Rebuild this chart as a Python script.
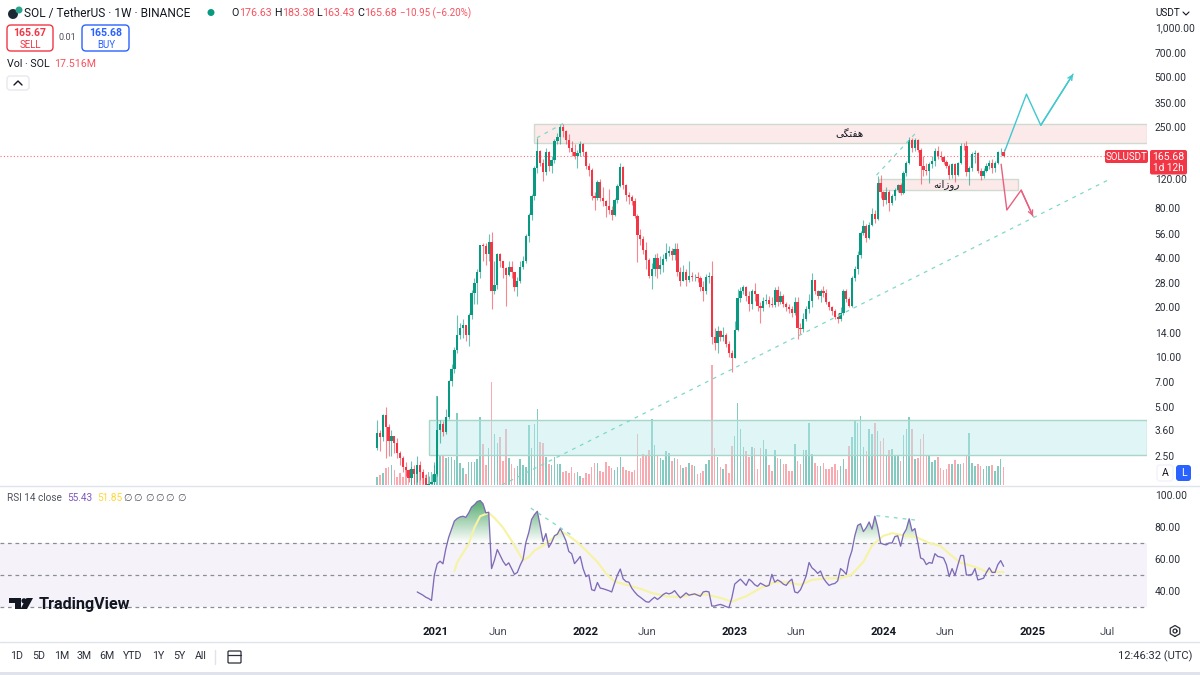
import numpy as np, pandas as pd, matplotlib
matplotlib.use("Agg")
import matplotlib.pyplot as plt, seaborn as sns, matplotlib.dates as mdates
from matplotlib.patches import Rectangle, FancyBboxPatch, Polygon
from matplotlib.lines import Line2D
from matplotlib.path import Path
from matplotlib.ticker import NullLocator
from matplotlib.transforms import IdentityTransform

first_open = 2.82
closes = [3.45,3.25,4.45,3.75,3.1,3.3,3.0,2.6,2.45,2.15,
 2.05,1.85,2.1,1.95,2.2,2.0,1.85,1.65,1.7,1.75,1.95,
 3.6,3.9,3.5,4.3,7.1,8.4,11,13.6,15,15.6,
 13.5,18,24.5,28,33,47.5,47,42,50,25,
 27.5,42,38.5,34.5,31.5,35,33,26.5,29,35,
 38.5,54,73,95,140,178,150,133,175,145,
 157,205,215,250,235,207,185,175,167,172,
 195,175,145,136,95,92,115,92,88,83,
 78,73,90,109,142,110,96,93,88,72,
 55,52,44.5,39,31,34,40,34,36,39.5,
 42.5,44,41.5,45,33,29,33,29.5,31,30.5,
 30.5,30,26.5,25,30.5,31,13.3,12.2,14.3,13.3,
 13.5,12,10.6,9.9,14.6,22.8,25,26.5,23.5,21,
 25,24,20.5,19.8,22,22.2,21,20.7,25.5,21.5,
 23.5,21,20,19.5,18.5,21.5,15,14.8,17,19.5,
 22,29.5,25,23.5,25,24.5,21.5,20,19,17.5,
 17,18.5,25,22.5,20.5,30,34,41.6,56.5,62,
 53,63,74,69,113,100,89.5,100,
 86,95,103,110,99,130,150,208,185,207,180,
 145,136,135,148,155,178,165,163,153,145,
 127,148,127,150,192,190,132,140,170,172,
 135,125,135,145,150,140,150,175,176.63,165.68]
highs = [4.15,3.6,4.5,5.0,3.9,3.6,3.3,3.2,2.7,2.5,
 2.3,2.1,2.35,2.2,2.5,2.35,2.1,1.95,1.9,1.95,2.3,
 5.8,4.15,4.1,4.8,7.2,9,11.5,18,16,17,
 15.5,18.5,25.5,30,34,48,49,49,56,57,
 38,43,43,38,35,38,38,33,30.5,38,
 41,56,75,97,145,214,180,160,185,178,
 165,210,230,258,260,240,225,205,195,180,
 205,200,178,150,140,100,118,120,108,90,
 105,82,92,112,150,145,112,100,96,92,
 74,60,54,50,40,37,42,43,41,42,
 49,47,46,49,49,35,36,34,38,33,
 32,33,31,29,32,33,38,15,15.5,14.5,
 15.2,14,12.5,11,16.5,26,26.5,27.5,27,25,
 26,28,24,21.5,23,24,23.5,23,26.5,27,
 25,24,21.5,21,20.5,23,23,16,18.5,20.5,
 24,32.5,29.5,25.5,26,27,26,22,20.5,19.5,
 18.5,20,26,26,23,31,35.5,44,58,68,
 64,66,80,78,125,127,102,108,
 103,97,106,112,113,135,155,215,212,212,210,
 185,165,150,152,165,185,190,178,165,158,
 148,150,150,152,198,200,205,145,175,180,
 175,140,140,150,158,160,155,178,185,183.38]
lows = [2.73,2.7,3.1,2.45,2.5,2.5,2.6,2.45,2.2,2.0,
 1.9,1.75,1.67,1.7,1.75,1.8,1.7,1.5,1.55,1.6,1.6,
 1.9,3.0,3.3,3.4,4.2,6.7,8,10.5,12.8,13,
 12.5,11.7,17,21,21,30,38,36,38,19.5,
 24,26,35,30,20.5,31,30,25,23.5,28,
 34,37,50,68,90,130,145,117,128,135,
 130,150,195,195,215,195,175,165,160,140,
 165,165,138,125,90,78,90,88,82,71,
 74,68,72,86,108,105,88,85,84,70,
 37.5,48,42,34,30,26,31,30,32,33,
 38,41,39,39,31,27,29,27,28.5,29,
 29,28.5,25,22,24,28,12,11,10.6,12.5,
 12.5,11.5,10,8.1,9.8,14.3,21.5,24,22,19,
 19.5,22,19,16,19,21,20,20,20,20.5,
 21,20,19,18.5,17.5,18,12.8,13.8,14.2,16.5,
 18.5,20,24,22.5,21.5,23,21,19.2,18,17,
 16,16.5,18,21.5,20,20,29,32,40,55,
 50,52,62,65,68,92,82,85,
 77,84,90,100,96,97,125,148,175,178,175,
 112,125,128,113,140,145,160,158,148,140,
 120,122,115,125,148,180,125,110,135,150,
 130,118,122,132,138,130,132,148,168,163.43]
volumes_m = [8,10,12,17,18,20,15,8,12,8,15,9,18,12,20,15,12,10,13,13,20,89,30,
 29,27,28,28,25,72,22,17,11,23,23,23,26,68,41,20,37,103,51,42,48,
 24,56,27,21,17,19,26,20,18,60,37,61,76,43,42,28,21,20,28,21,
 21,13,14,12,18,12,13,9,7,12,11,18,22,22,14,13,23,19,17,15,
 18,28,18,15,14,13,15,51,27,31,30,35,66,40,29,27,25,34,32,24,
 27,26,20,17,18,22,
 20,19,11,12,14,21,25,120,37,28,18,16,21,12,39,49,82,56,38,34,
 28,38,37,16,37,45,36,20,14,35,27,26,21,21,14,14,41,24,21,
 35,35,62,31,22,19,19,22,16,16,18,21,15,19,26,16,39,48,65,62,
 69,38,34,56,51,62,54,44,47,29,35,36,29,29,24,50,56,68,56,26,
 27,46,51,29,30,23,25,28,17,15,16,21,21,25,21,21,22,30,52,22,
 19,21,19,16,19,19,20,14,19,26,17.516]
rsi_start_bar = 14
rsi_values = [39.4,38.4,37.4,36.1,35.3,34.1,50,57,58.6,57,66.3,73.5,78.6,83.7,85.3,86.3,86.7,86,88.8,92.4,
 93.9,95.9,96.5,94.5,88.8,89.2,54,59.2,65.9,62.2,58.6,56,57.6,54,50.4,51.6,56.1,59.8,70.4,76.5,
 84.7,87.7,89.8,80.6,70.8,75.9,67.3,70.4,74.5,75.5,79,75.5,71.4,64.7,63.3,57.1,59.2,61.6,54,49,
 50,40.8,40.2,45.3,41.8,41.4,40.8,40.2,39.4,44.9,50,53.7,47.6,45.9,45.5,41.8,39.4,37.4,36.1,34.7,
 33.3,33,34.7,36.1,34.7,36.1,37.8,38.8,38.2,38.8,40.2,37.8,35.7,37.2,38.8,37.4,37.8,38.2,37.4,36.7,
 39.4,39.8,39.4,30.6,30.6,31.2,31.6,31,30.2,29.6,35.7,44.3,45.9,47.4,45.5,43.5,47.4,45.9,43.9,42.9,
 44.9,43.9,42.9,43.5,50.4,45.5,46.9,45.9,44.3,43.5,45.9,47.4,39.4,38.8,40.8,44.9,49.6,57.8,54.5,53,
 51,52.5,48,45.5,43.5,44.3,44.7,46.3,54,52.5,50.4,59.8,65.3,74.5,81,82,77.1,79.6,83.1,78.6,
 86.7,79.6,70,69.2,68.8,70,70,74,74.5,68,75.5,78.6,85.1,77.5,79,70.4,60.6,59.8,56.5,57.8,
 57.3,63.3,61.6,61.2,60.6,56.5,49,54,49.6,56.1,62.2,62.2,50,50,50.4,54,46.9,47.4,48,51.6,
 54.5,51.6,51.6,56.5,59,55.43]
ma_bars = [27,28,32,34,36,39,41,44,47,49,51,53,55,58,61,64,67,70,73,77,80,83,87,92,96,101,106,110,115,
 120,124,129,134,139,143,148,152,157,162,166,170,173,177,180,185,188,193,197,200,204,209,213,219]
ma_values = [52.4,58,69.4,79.6,86.7,88.8,85.7,79.6,71.4,65.3,59.2,61.2,65.3,68.4,72.4,77.5,74.5,70.4,65.3,58.2,51,45.9,43.9,41.4,38.8,36.7,36.1,37.8,37.8,
 35.7,33.3,36.7,41.8,45.5,45.5,43.9,46.9,47.9,47.9,50.4,58.2,68.4,74.5,76.1,74.5,74,70,68,63.3,57.6,55.1,52,51.85]
price_ticks = [1000,700,500,350,250,120,80,56,40,28,20,14,10,7,5,3.6,2.5]
rsi_ticks = [100,80,60,40]
time_ticks = ["2021-01-01","2021-06-01","2022-01-01","2022-06-01","2023-01-01","2023-06-01","2024-01-01","2024-06-01","2025-01-01","2025-07-01"]
time_labels = ["2021","Jun","2022","Jun","2023","Jun","2024","Jun","2025","Jul"]
range_labels = ["1D","5D","1M","3M","6M","YTD","1Y","5Y","All"]
assert len(closes)==len(highs)==len(lows)==len(volumes_m)==220, (len(closes),len(highs),len(lows),len(volumes_m))
assert len(rsi_values)==206, len(rsi_values)

sns.set_theme(style="white")
plt.rcParams['font.family'] = ['Roboto','DejaVu Sans']
UP,DOWN,INK,GREY='#089981','#f23645','#131722','#50535e'
W,H=1200,675
fig=plt.figure(figsize=(12,6.75),dpi=100,facecolor='white')
ax=fig.add_axes([0,1-485/H,1147/W,485/H])
axv=ax.twinx()
ar=fig.add_axes([0,1-621/H,1147/W,135/H])
ax.set_zorder(3); axv.set_zorder(2); ar.set_zorder(1); ax.patch.set_visible(False)

df=pd.DataFrame({'date':pd.date_range('2020-08-10',periods=len(closes),freq='7D'),
                 'close':closes,'high':highs,'low':lows,'volume':volumes_m})
df['open']=[first_open]+closes[:-1]
df['top']=df[['open','close']].max(axis=1); df['bot']=df[['open','close']].min(axis=1)
df['color']=np.where(df.close>=df.open,UP,DOWN)
xl=(pd.Timestamp('2020-08-10')-pd.Timedelta(days=923),pd.Timestamp('2020-08-10')+pd.Timedelta(days=1884))
num=lambda s:mdates.date2num(pd.Timestamp(s))

# volume
vol_colors=[(0.03,0.60,0.51,.5) if c==UP else (0.95,0.21,0.27,.42) for c in df.color]
axv.bar(df.date,df.volume,width=3.8,color=vol_colors,linewidth=0)
axv.set_ylim(0,485); axv.set_yticks([]); axv.grid(False)
# candles
ax.vlines(df.date,df.low,df.high,colors=df.color,linewidth=.8,alpha=.6,zorder=4)
ax.bar(df.date,df.top-df.bot,bottom=df.bot,width=5.6,color=df.color,linewidth=0,zorder=5)
ax.set_yscale('log'); ax.set_ylim(1.67,1469); ax.set_xlim(*xl)
ax.yaxis.set_minor_locator(NullLocator()); ax.set_xticks([])
ax.yaxis.tick_right(); ax.set_yticks(price_ticks); ax.set_yticklabels([f"{v:,.2f}" for v in price_ticks])
ax.tick_params(axis='y',length=0,pad=5.5,labelsize=7.4,labelcolor='#2a2e39')
ax.grid(False)
for a in (ax,axv,ar):
    for s in a.spines.values(): s.set_visible(False)
ax.axhline(165.68,color=DOWN,lw=.8,ls=(0,(1,2)),alpha=.7,zorder=2)

def zone(d0,d1,p0,p1,fc,ec,alpha=1):
    x0=num(d0); x1=num(d1) if d1 else mdates.date2num(xl[1])
    ax.add_patch(Rectangle((x0,p0),x1-x0,p1-p0,facecolor=matplotlib.colors.to_rgba(fc,alpha),edgecolor=ec,lw=1,zorder=1))
zone('2021-08-29',None,198,259,'#fce9e9','#cfdad0')
zone('2023-12-21','2024-11-25',103,120,'#fce9e9','#cfdad0')
zone('2020-12-15',None,2.55,4.15,'#b8e9ed','#a9d6c8',alpha=.45)
ax.text(num('2023-10-11'),226,"\uFBFD\uFB95\uFE98\uFED4\uFEEB",family=['DejaVu Sans'],fontsize=7.5,color=INK,ha='center',va='center',zorder=6)
ax.text(num('2024-06-02'),112,"\uFEEA\uFEE7\uFE8D\uFEAF\uFEED\uFEAD",family=['DejaVu Sans'],fontsize=7.5,color=INK,ha='center',va='center',zorder=6)

TEAL='#7fd8c8'
def seg(a,dates,vals,color=TEAL,ls=(0,(3,4)),lw=.9,arrow=False):
    d=[num(s) for s in dates]
    a.plot(d,vals,color=color,lw=lw,ls=ls,zorder=6)
    if arrow:
        a.annotate("",xy=(d[-1],vals[-1]),xytext=(d[-2],vals[-2]),arrowprops=dict(arrowstyle='->',color=color,lw=lw,shrinkA=0,shrinkB=0,mutation_scale=8),zorder=6)
seg(ax,['2021-06-11','2025-07-08'],[1.67,120])
seg(ax,['2021-09-05','2021-11-08'],[214,261])
seg(ax,['2023-12-15','2024-03-18'],[127,226])
seg(ax,['2024-10-24','2024-12-16','2025-01-20','2025-04-09'],[178,394,255,521],color='#3fc8cf',ls='-',lw=1,arrow=True)
seg(ax,['2024-10-15','2024-10-29','2024-12-03','2025-01-01'],[148,78,103,71.5],color='#e9607f',ls='-',lw=1,arrow=True)

# RSI pane
ar.axhspan(30,70,color='#7e57c2',alpha=.075,linewidth=0,zorder=0)
for lv in (70,50,30): ar.axhline(lv,color='#8a8d96',lw=.9,ls=(0,(3,3)),zorder=1)
rsi=pd.DataFrame({'date':df.date.iloc[rsi_start_bar:].values,'rsi':rsi_values})
ma=pd.DataFrame({'date':df.date.iloc[ma_bars].values,'ma':ma_values})
poly=ar.fill_between(rsi.date,70,rsi.rsi,where=rsi.rsi>70,interpolate=True,color='none')
grad=np.zeros((256,1,4)); grad[...,0]=.2; grad[...,1]=.6; grad[...,2]=.32
grad[:,0,3]=np.linspace(.95,0,256)
im=ar.imshow(grad,extent=[mdates.date2num(xl[0]),mdates.date2num(xl[1]),70,100],aspect='auto',origin='upper',zorder=2)
im.set_clip_path(Path.make_compound_path(*poly.get_paths()),transform=ar.transData)
sns.lineplot(data=ma,x='date',y='ma',ax=ar,color='#f6f4a2',lw=1.5,zorder=3,legend=False)
sns.lineplot(data=rsi,x='date',y='rsi',ax=ar,color='#7e6bb8',lw=.95,zorder=4,legend=False)
seg(ar,['2021-08-21','2021-12-03'],[91.8,74.1])
seg(ar,['2023-12-15','2024-03-30'],[87.1,84])
ar.set_xlim(*xl); ar.set_ylim(21.25,105.6); ar.grid(False)
ar.set_xlabel(''); ar.set_ylabel('')
ar.yaxis.tick_right(); ar.set_yticks(rsi_ticks); ar.set_yticklabels([f"{v:.2f}" for v in rsi_ticks])
ar.tick_params(axis='y',length=0,pad=5.5,labelsize=7.4,labelcolor='#2a2e39')
ar.set_xticks([pd.Timestamp(t) for t in time_ticks]); ar.set_xticklabels(time_labels)
ar.tick_params(axis='x',length=0,pad=4,labelsize=8.2,labelcolor='#50535e')
for lab in ar.get_xticklabels():
    if lab.get_text().isdigit(): lab.set_fontweight('bold'); lab.set_color(INK)

# chrome
P=lambda x,y:(x/W,1-y/H)
def T(x,y,s,size=8,color=INK,ha='left',**k):
    fig.text(x/W,1-y/H,s,fontsize=size,color=color,ha=ha,va='center',zorder=20,**k)
def box(x0,y0,x1,y1,fc='white',ec='none',lw=1,r=3):
    fig.add_artist(FancyBboxPatch((x0,H-y1),x1-x0,y1-y0,boxstyle=f"round,pad=0,rounding_size={r}",
        transform=IdentityTransform(),fc=fc,ec=ec,lw=lw,zorder=15))
def line(xs,ys,color='#e0e3eb',lw=1):
    fig.add_artist(Line2D([x/W for x in xs],[1-y/H for y in ys],color=color,lw=lw,zorder=16,transform=fig.transFigure))
def poly_px(pts,color):
    fig.add_artist(Polygon([P(*p) for p in pts],closed=True,fc=color,ec='none',transform=fig.transFigure,zorder=16))

line([0,1200],[485.7,485.7]); line([0,1200],[641.5,641.5])
fig.add_artist(Rectangle((0,0),1,3/H,fc='#e0e3eb',ec='none',transform=fig.transFigure,zorder=15))
# header
poly_px([(13+5*np.cos(t),14+5*np.sin(t)) for t in np.linspace(0,6.28,24)],'#1b2a33')
poly_px([(19+3.5*np.cos(t),10+3.5*np.sin(t)) for t in np.linspace(0,6.28,24)],'#2aa58c')
T(24,13,"SOL / TetherUS · 1W · BINANCE",8.6)
poly_px([(211+3.5*np.cos(t),12.5+3.5*np.sin(t)) for t in np.linspace(0,6.28,24)],UP)
RED='#f7525f'
for x,s,c,z in [(231,"O",INK,7.7),(239,"176.63",RED,7.7),(274,"H",INK,7.7),(282,"183.38",RED,7.7),(316,"L",INK,7.7),(322,"163.43",RED,7.7),(357,"C",INK,7.7),(364,"165.68",RED,7.7),(400,"−10.95 (−6.20%)",RED,7.0)]:
    T(x,13,s,z,c)
box(7,25,53,51,ec=DOWN,r=4); box(82,25,129,51,ec='#2962ff',r=4)
T(30,33.5,"165.67",7.6,DOWN,ha='center',fontweight='bold'); T(30,44.5,"SELL",7,DOWN,ha='center')
T(106,33.5,"165.68",7.6,'#2962ff',ha='center',fontweight='bold'); T(106,44.5,"BUY",7,'#2962ff',ha='center')
T(67,38,"0.01",6.6,GREY,ha='center')
T(7,64,"Vol · SOL",7.7); T(54,64,"17.516M",7.7,RED)
box(7,76,29,90,ec='#e8e9ee',r=3); line([14,18,22],[85,81,85],color=INK,lw=1)
T(1155,13,"USDT",7.2); line([1183,1186,1189],[12,15,12],color=INK,lw=.8)
# last price labels
box(1105,150,1148,163,fc=DOWN,r=2); T(1126.5,156.5,"SOLUSDT",7,'white',ha='center')
box(1150,150,1187,174.5,fc=DOWN,r=2); T(1168.5,156.5,"165.68",7.6,'white',ha='center'); T(1168.5,168,"1d 12h",7.2,'white',ha='center')
# RSI header
T(7,498,"RSI 14 close",7.2,GREY); T(67,498,"55.43",7.2,'#7e57c2'); T(97,498,"51.85",7.2,'#fdd835')
for x in (127,138,149,160,170,181): T(x,498,"∅",7,GREY,ha='center')
# logo
poly_px([(9,598),(21,598),(21,609),(15,609),(15,603),(9,603)],INK)
poly_px([(24+2.6*np.cos(t),600.8+2.6*np.sin(t)) for t in np.linspace(0,6.28,20)],INK)
poly_px([(26.5,598),(33,598),(27,609),(20.5,609)],INK)
T(39,604,"TradingView",11.6,INK,fontweight='bold')
# bottom toolbar
for x,s in zip((17,39,62,84,107,133,158,179,201),range_labels): T(x,656,s,7.7,'#2a2e39',ha='center')
line([215,215],[650,664])
box(228,651,241,663,fc='none',ec='#2a2e39',lw=.9,r=1); line([228,241],[654.5,654.5],color='#2a2e39',lw=.9)
T(1192,656,"12:46:32 (UTC)",8.0,'#2a2e39',ha='right')
# A / L, gear
box(1157,465,1173,481,ec='#f0f3fa',r=3); T(1165,473,"A",7.6,INK,ha='center')
box(1176,465,1191,481,fc='#2962ff',r=3); T(1183.5,473,"L",7.6,'white',ha='center')
hx=[1175+5.5*np.cos(t+np.pi/2) for t in np.linspace(0,6.283,7)]; hy=[631+5.5*np.sin(t+np.pi/2) for t in np.linspace(0,6.283,7)]
line(hx,hy,color='#2a2e39',lw=.9)
cx=[1175+2*np.cos(t) for t in np.linspace(0,6.283,14)]; cy=[631+2*np.sin(t) for t in np.linspace(0,6.283,14)]
line(cx,cy,color='#2a2e39',lw=.9)
fig.savefig('out.png',dpi=100,facecolor='white')
